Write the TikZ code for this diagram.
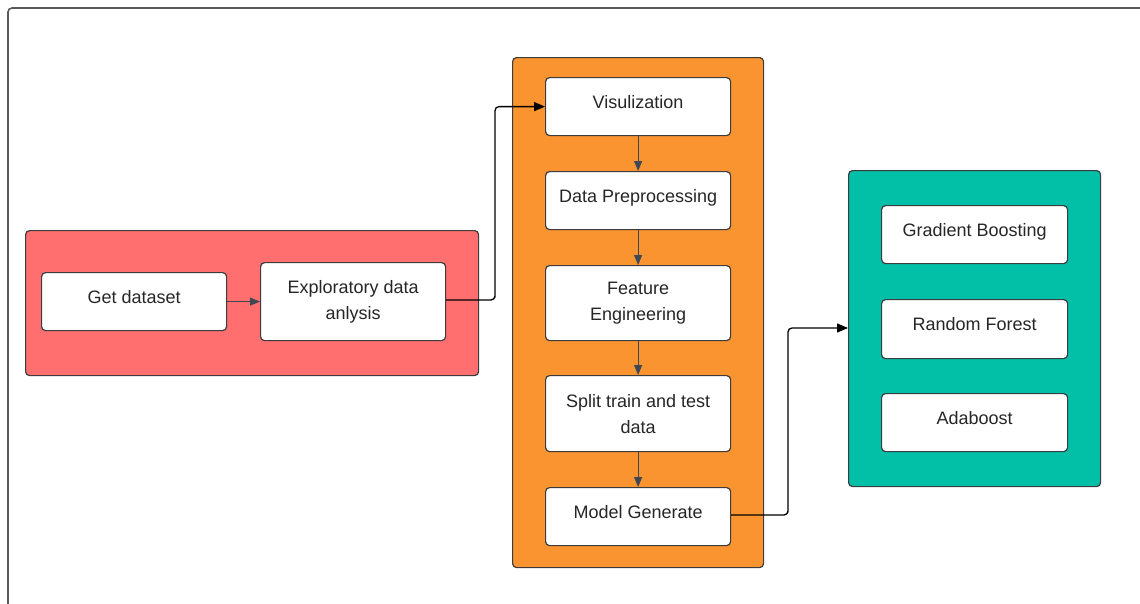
\documentclass[tikz,border=0pt]{standalone}
\usepackage{fontspec}
\setmainfont{Liberation Sans}
\usetikzlibrary{arrows.meta}
\definecolor{redc}{RGB}{255,111,111}
\definecolor{orangec}{RGB}{250,148,48}
\definecolor{tealc}{RGB}{2,192,167}
\definecolor{edgec}{RGB}{60,60,62}
\definecolor{arrc}{RGB}{62,72,84}
\tikzset{
  container/.style={draw=edgec, line width=1.2pt, rounded corners=4pt},
  basebox/.style={draw=edgec, line width=1.2pt, fill=white, rounded corners=4pt, align=center,
    font=\fontsize{18}{26}\selectfont, text=black!85, inner sep=0pt, anchor=north west},
  stepbox/.style={basebox, text depth=10pt},
  twobox/.style={basebox}
}
\tikzset{
  inarrow/.style={draw=arrc, line width=1pt, -{Triangle[length=10pt,width=8pt]}},
  outarrow/.style={draw=black, line width=1.3pt, rounded corners=4pt, -{Triangle[length=11pt,width=9pt]}}
}
\begin{document}
\begin{tikzpicture}[x=1pt,y=-1pt]
\useasboundingbox (0,0) rectangle (1140,603);
% outer frame
\draw[draw=black!65, line width=1.6pt, rounded corners=4pt] (8,8) rectangle (1160,620);
% containers
\node[container, fill=redc, minimum width=453pt, minimum height=145pt, anchor=north west] (red) at (25,230) {};
\node[container, fill=orangec, minimum width=251pt, minimum height=510pt, anchor=north west] (orange) at (512,57) {};
\node[container, fill=tealc, minimum width=252pt, minimum height=316pt, anchor=north west] (teal) at (848,170) {};
% red boxes
\node[stepbox, minimum width=185pt, minimum height=58pt] (get) at (41,272) {Get dataset};
\node[twobox, minimum width=185pt, minimum height=78pt] (eda) at (260,262) {Exploratory data\\anlysis};
% orange boxes
\node[stepbox, minimum width=185pt, minimum height=58pt] (vis) at (545,77) {Visulization};
\node[stepbox, minimum width=185pt, minimum height=58pt] (pre) at (545,171) {Data Preprocessing};
\node[twobox, minimum width=185pt, minimum height=75pt] (fe) at (545,265) {Feature\\Engineering};
\node[twobox, minimum width=185pt, minimum height=76pt] (split) at (545,375) {Split train and test\\data};
\node[stepbox, minimum width=185pt, minimum height=58pt] (model) at (545,487) {Model Generate};
% teal boxes
\node[stepbox, minimum width=186pt, minimum height=58pt] (gb) at (881,205) {Gradient Boosting};
\node[stepbox, minimum width=186pt, minimum height=59pt] (rf) at (881,299) {Random Forest};
\node[stepbox, minimum width=186pt, minimum height=58pt] (ada) at (881,393) {Adaboost};
% inner arrows
\draw[inarrow] (get.east) -- (eda.west |- get.east);
\draw[inarrow] (vis) -- (pre);
\draw[inarrow] (pre) -- (fe);
\draw[inarrow] (fe) -- (split);
\draw[inarrow] (split) -- (model);
% outer connectors
\coordinate (c1) at (495,300);
\coordinate (c2) at (788,515);
\draw[outarrow] (eda.east |- c1) -| (c1) |- (vis.west);
\draw[outarrow] (model.east |- c2) -| (c2) |- (teal.west |- 0,328);
\end{tikzpicture}
\end{document}
